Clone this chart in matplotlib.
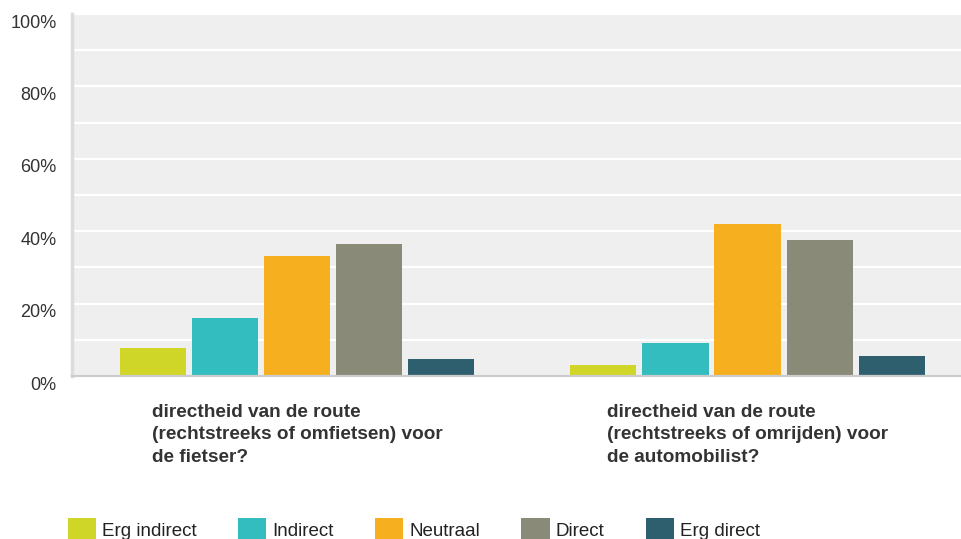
import numpy as np
import matplotlib.pyplot as plt
import matplotlib.transforms as mtransforms
from matplotlib.patches import Patch

plt.rcParams['font.family'] = ['Liberation Sans', 'DejaVu Sans']

# Data
categories = ['directheid van de route\n(rechtstreeks of omfietsen) voor\nde fietser?',
              'directheid van de route\n(rechtstreeks of omrijden) voor\nde automobilist?']
series = ['Erg indirect', 'Indirect', 'Neutraal', 'Direct', 'Erg direct']
values = {
    'Erg indirect': [7.7, 3.0],
    'Indirect': [16.0, 9.1],
    'Neutraal': [33.2, 42.1],
    'Direct': [36.6, 37.7],
    'Erg direct': [4.6, 5.5],
}
colors = ['#cfd628', '#33bdbf', '#f6af1f', '#8a8a79', '#2e5f6e']
yticks = [0, 20, 40, 60, 80, 100]

fig = plt.figure(figsize=(9.61, 5.39), dpi=100)
ax = fig.add_axes([72 / 961, 1 - 376 / 539, 1 - 72 / 961, (376 - 14) / 539])
ax.set_facecolor('#efefef')

x = np.arange(len(categories))
step = 0.16
width = 0.1467
for i, s in enumerate(series):
    ax.bar(x + (i - 2) * step, values[s], width=width, color=colors[i], label=s, zorder=3)

ax.set_xlim(-0.5, 1.474)
ax.set_ylim(0, 100)
ax.set_yticks(yticks)
ax.set_yticklabels([f'{t}%' for t in yticks])
ax.set_yticks(range(10, 100, 20), minor=True)
ax.grid(axis='y', which='both', color='white', linewidth=1.6, zorder=1)
ax.tick_params(axis='both', which='both', length=0)
ax.tick_params(axis='y', labelsize=13, labelcolor='#333333', pad=11)

ax.set_xticks(x)
ax.set_xticklabels(categories, fontsize=13.7, fontweight='bold', color='#333333',
                   multialignment='left', linespacing=1.42)
ax.tick_params(axis='x', pad=20)

# shift y labels a little down, as in the original
off = mtransforms.ScaledTranslation(0, -7 / 100, fig.dpi_scale_trans)
for lab in ax.get_yticklabels():
    lab.set_transform(lab.get_transform() + off)

for side in ['top', 'right']:
    ax.spines[side].set_visible(False)
ax.spines['left'].set_color('#dcdcdc')
ax.spines['left'].set_linewidth(2.5)
ax.spines['bottom'].set_color('#cccccc')
ax.spines['bottom'].set_linewidth(1.6)
ax.spines['bottom'].set_zorder(4)

handles = [Patch(facecolor=c, edgecolor='none') for c in colors]
leg = fig.legend(handles, series, loc='center left', bbox_to_anchor=(68 / 961, 1 - 530 / 539),
                 ncol=5, frameon=False, fontsize=13.5, handlelength=1.5, handleheight=1.6,
                 handletextpad=0.33, columnspacing=2.2, borderaxespad=0, borderpad=0)
for t in leg.get_texts():
    t.set_color('#222222')

plt.savefig('out.png', dpi=100)
